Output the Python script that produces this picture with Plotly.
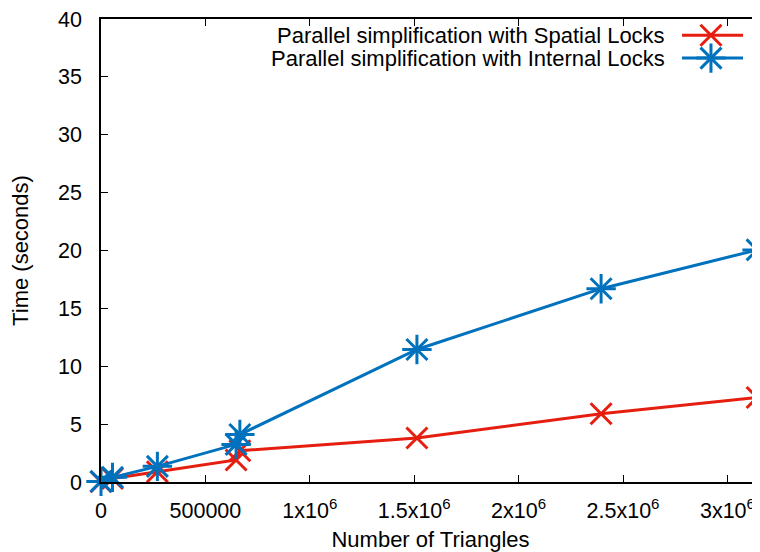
import plotly.graph_objects as go

# Data
triangles = [0, 55000, 270000, 647000, 665000, 1513000, 2395000, 3142000]
spatial_locks = [0.02, 0.3, 0.88, 1.9, 2.7, 3.8, 5.9, 7.3]
internal_locks = [0.05, 0.4, 1.35, 3.25, 4.1, 11.45, 16.7, 20.05]

series_names = ["Parallel simplification with Spatial Locks",
                "Parallel simplification with Internal Locks"]
x_tickvals = [0, 500000, 1000000, 1500000, 2000000, 2500000, 3000000]
x_ticktext = ["0", "500000", "1x10<sup>6</sup>", "1.5x10<sup>6</sup>", "2x10<sup>6</sup>",
              "2.5x10<sup>6</sup>", "3x10<sup>6</sup>"]
y_tickvals = [0, 5, 10, 15, 20, 25, 30, 35, 40]

RED = "#e51e10"
BLUE = "#0072bd"
FONT = "Liberation Sans, Arial, sans-serif"
FS_TICK = 21.5
FS = 22
MS = 21
LW = 3

fig = go.Figure()

# Spatial locks (red, x markers)
fig.add_trace(go.Scatter(
    x=triangles, y=spatial_locks, mode="lines+markers", name=series_names[0],
    line=dict(color=RED, width=LW),
    marker=dict(symbol="x-thin-open", size=MS, color=RED, line=dict(color=RED, width=LW)),
    showlegend=False, cliponaxis=False))

# Internal locks (blue, asterisk = x + cross)
fig.add_trace(go.Scatter(
    x=triangles, y=internal_locks, mode="lines+markers", name=series_names[1],
    line=dict(color=BLUE, width=LW),
    marker=dict(symbol="x-thin-open", size=MS, color=BLUE, line=dict(color=BLUE, width=LW)),
    showlegend=False, cliponaxis=False))
fig.add_trace(go.Scatter(
    x=triangles, y=internal_locks, mode="markers", name=series_names[1],
    marker=dict(symbol="cross-thin-open", size=MS, color=BLUE, line=dict(color=BLUE, width=LW)),
    showlegend=False, cliponaxis=False, hoverinfo="skip"))

# Manual legend (gnuplot style: text right-aligned, sample on the right)
leg_rows = [0.9650, 0.9155]
leg_x0, leg_x1, leg_xm, leg_text_x = 0.8816, 0.9742, 0.9256, 0.8589
leg_colors = [RED, BLUE]
for name, yy, col in zip(series_names, leg_rows, leg_colors):
    fig.add_shape(type="line", xref="x2", yref="y2", x0=leg_x0, x1=leg_x1, y0=yy, y1=yy,
                  line=dict(color=col, width=LW))
    fig.add_annotation(xref="x2", yref="y2", x=leg_text_x, y=yy, text=name, showarrow=False,
                       xanchor="right", yanchor="middle", font=dict(family=FONT, size=FS, color="black"))
fig.add_trace(go.Scatter(x=[leg_xm], y=[leg_rows[0]], xaxis="x2", yaxis="y2", mode="markers",
                         marker=dict(symbol="x-thin-open", size=MS, color=RED, line=dict(color=RED, width=LW)),
                         showlegend=False, hoverinfo="skip", cliponaxis=False))
for sym in ["x-thin-open", "cross-thin-open"]:
    fig.add_trace(go.Scatter(x=[leg_xm], y=[leg_rows[1]], xaxis="x2", yaxis="y2", mode="markers",
                             marker=dict(symbol=sym, size=MS, color=BLUE, line=dict(color=BLUE, width=LW)),
                             showlegend=False, hoverinfo="skip", cliponaxis=False))

axis_common = dict(showgrid=False, zeroline=False, showline=True, linecolor="black", linewidth=1.5,
                   ticks="inside", ticklen=7, tickcolor="black", tickwidth=1,
                   ticklabeloverflow="allow",
                   tickfont=dict(family=FONT, size=FS_TICK, color="black"))

# The page body has an 8px margin; size the figure so the plot area lands where the reference has it.
fig.update_layout(
    width=752, height=544,
    margin=dict(l=93, r=0, t=9, b=70),
    paper_bgcolor="white", plot_bgcolor="white",
    font=dict(family=FONT, size=FS, color="black"),
    xaxis=dict(range=[0, 3156000], tickvals=x_tickvals, ticktext=x_ticktext, mirror="ticks",
               title=dict(text="Number of Triangles", font=dict(family=FONT, size=FS), standoff=12),
               ticklabelstandoff=8, **axis_common),
    yaxis=dict(range=[0, 40], tickvals=y_tickvals, mirror=False,
               title=dict(text="Time (seconds)", font=dict(family=FONT, size=FS), standoff=27),
               ticklabelstandoff=13, **axis_common),
    xaxis2=dict(range=[0, 1], overlaying="x", visible=False, fixedrange=True),
    yaxis2=dict(range=[0, 1], overlaying="y", visible=False, fixedrange=True),
    showlegend=False,
)

fig.write_html("out.html")
